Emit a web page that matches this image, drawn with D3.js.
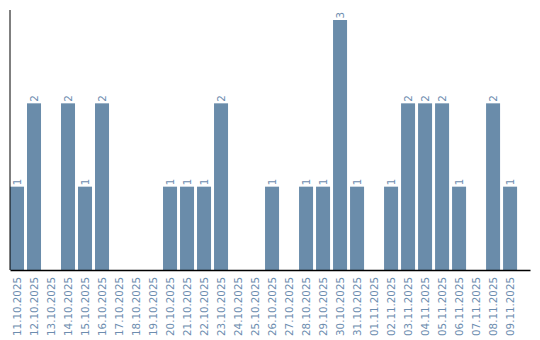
<!DOCTYPE html>
<html><head><meta charset="utf-8">
<script src="https://cdn.jsdelivr.net/npm/d3@7"></script>
<style>body{margin:0;background:#fff}svg{display:block}text{font-family:"DejaVu Sans",sans-serif}</style>
</head><body>
<svg id="c" width="540" height="340"></svg>
<script>
const categories = ["11.10.2025","12.10.2025","13.10.2025","14.10.2025","15.10.2025","16.10.2025","17.10.2025","18.10.2025","19.10.2025","20.10.2025","21.10.2025","22.10.2025","23.10.2025","24.10.2025","25.10.2025","26.10.2025","27.10.2025","28.10.2025","29.10.2025","30.10.2025","31.10.2025","01.11.2025","02.11.2025","03.11.2025","04.11.2025","05.11.2025","06.11.2025","07.11.2025","08.11.2025","09.11.2025"];
const values = [1,2,0,2,1,2,0,0,0,1,1,1,2,0,0,1,0,1,1,3,1,0,1,2,2,2,1,0,2,1];

const svg = d3.select("#c");
const x = d3.scaleBand().domain(categories).range([10,530]).paddingInner(0.176).paddingOuter(0.38).align(0);
const y = d3.scaleLinear().domain([0,3.12]).range([270,10]);
const barColor = "#6a8caa", textColor = "#6d8daf";

const data = categories.map((c,i)=>({c, v: values[i]}));

svg.selectAll("rect.bar").data(data.filter(d=>d.v>0)).enter().append("rect")
  .attr("x", d=>x(d.c)).attr("width", x.bandwidth())
  .attr("y", d=>y(d.v)).attr("height", d=>y(0)-y(d.v))
  .attr("fill", barColor);

svg.selectAll("text.val").data(data.filter(d=>d.v>0)).enter().append("text")
  .attr("transform", d=>`translate(${x(d.c)+x.bandwidth()/2+3.5},${y(d.v)-1.5}) rotate(-90)`)
  .attr("font-size", 10.3).attr("fill", textColor).text(d=>d.v);

const xa = svg.append("g").attr("transform","translate(0,270)")
  .call(d3.axisBottom(x).tickSize(0).tickPadding(0));
xa.select(".domain").attr("stroke","#000").attr("stroke-width",1.5);
xa.selectAll(".tick text")
  .attr("font-size",10.3).attr("fill",textColor)
  .attr("text-anchor","end").attr("dy",null)
  .attr("transform","translate(3.5,7) rotate(-90)").attr("y",0).attr("x",0);

svg.append("line").attr("x1",10).attr("x2",10).attr("y1",10).attr("y2",270)
  .attr("stroke","#000").attr("stroke-width",1);
</script>
</body></html>
